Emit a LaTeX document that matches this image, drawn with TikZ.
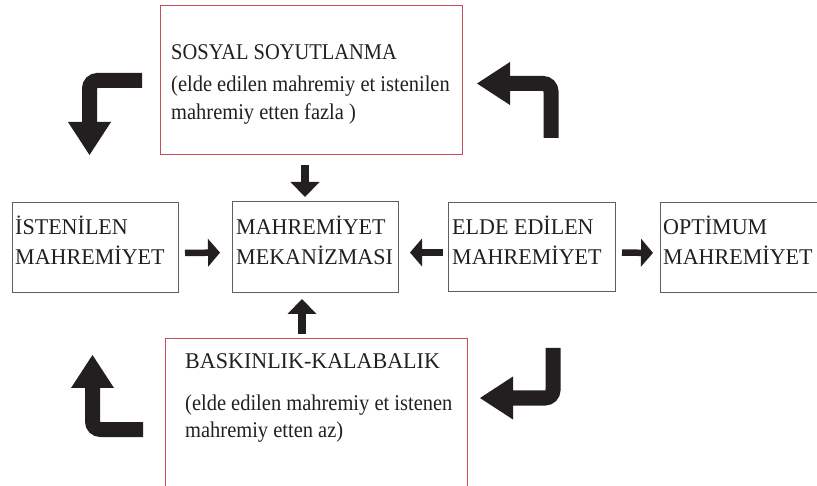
\documentclass[tikz,border=0pt]{standalone}
\usepackage{fontspec}
\setmainfont{Liberation Serif}
\newfontfamily\capsface[FakeStretch=0.98]{Liberation Serif}
\newfontfamily\tightface[FakeStretch=0.91]{Liberation Serif}
\usetikzlibrary{arrows.meta}
\definecolor{ink}{RGB}{35,31,32}
\definecolor{boxline}{RGB}{95,95,95}
\definecolor{redline}{RGB}{205,75,85}

\begin{document}
\begin{tikzpicture}[x=1pt,y=-1pt,
  box/.style={draw=boxline, line width=1pt, anchor=north west, inner sep=0pt, outer sep=0pt},
  redbox/.style={draw=redline, line width=1pt, anchor=north west, inner sep=0pt, outer sep=0pt},
  txt/.style={anchor=base west, inner sep=0pt, text=ink, font=\capsface\fontsize{22.5}{27}\selectfont},
  ttxt/.style={txt, font=\tightface\fontsize{22.5}{27}\selectfont},
  flow/.style={draw=ink, line width=6.5pt, -{Triangle[length=12pt,width=28pt,line width=0pt 0]}},
  vflow/.style={draw=ink, line width=7.5pt, -{Triangle[length=15pt,width=29pt,line width=0pt 0]}},
  turnarrow/.style={draw=ink, line width=15pt, rounded corners=8pt, -{Triangle[length=33pt,width=43pt,line width=0pt 0]}},
]
\useasboundingbox (0,0) rectangle (817,486);
\clip (0,0) rectangle (817,486);

% top and bottom boxes
\node[redbox, minimum width=302pt, minimum height=149pt] (top) at (160,6) {};
\node[redbox, minimum width=302pt, minimum height=160pt] (bot) at (165,339) {};

% middle row
\node[box, minimum width=166pt, minimum height=90pt] (b1) at (12,203) {};
\node[box, minimum width=166pt, minimum height=91pt] (b2) at (232,202) {};
\node[box, minimum width=167pt, minimum height=89pt] (b3) at (448,203) {};
\node[box, minimum width=170pt, minimum height=90pt] (b4) at (660,203) {};

% texts
\node[ttxt] (t1a) at (171,60) {SOSYAL SOYUTLANMA};
\node[ttxt] (t1b) at (171,92) {(elde edilen mahremiy et istenilen};
\node[ttxt] (t1c) at (171,120) {mahremiy etten fazla )};

\node[txt] (t2a) at (185,369) {BASKINLIK-KALABALIK};
\node[ttxt] (t2b) at (185,410) {(elde edilen mahremiy et istenen};
\node[ttxt] (t2c) at (185,437) {mahremiy etten az)};

\node[txt] (m1a) at (15,235) {İSTENİLEN};
\node[txt] (m1b) at (15,265) {MAHREMİYET};
\node[txt] (m2a) at (236,235) {MAHREMİYET};
\node[txt] (m2b) at (236,265) {MEKANİZMASI};
\node[txt] (m3a) at (452,235) {ELDE EDİLEN};
\node[txt] (m3b) at (452,265) {MAHREMİYET};
\node[txt] (m4a) at (663,235) {OPTİMUM};
\node[txt] (m4b) at (663,265) {MAHREMİYET};

% straight connectors
\draw[flow, shorten <=7pt, shorten >=12pt] ([yshift=-5pt]b1.east) -- ([yshift=-5pt]b2.west);
\draw[flow, shorten <=5pt, shorten >=12pt] ([yshift=-5pt]b3.west) -- ([yshift=-5pt]b2.east);
\draw[flow, shorten <=7pt, shorten >=7pt] ([yshift=-5pt]b3.east) -- ([yshift=-5pt]b4.west);

\coordinate (dx) at (305,0);
\coordinate (ux) at (302,0);
\draw[vflow, shorten <=10pt, shorten >=5pt] (top.south -| dx) -- (b2.north -| dx);
\draw[vflow, shorten <=5pt, shorten >=6pt] (bot.north -| ux) -- (b2.south -| ux);

% bent arrows around the cycle
\draw[turnarrow] (142,80.5) -- (89.5,80.5) -- (89.5,155);
\draw[turnarrow] (551,138) -- (551,83.5) -- (477,83.5);
\draw[turnarrow] (143,429.5) -- (92.5,429.5) -- (92.5,355);
\draw[turnarrow] (553,348) -- (553,398) -- (480,398);
\end{tikzpicture}
\end{document}
